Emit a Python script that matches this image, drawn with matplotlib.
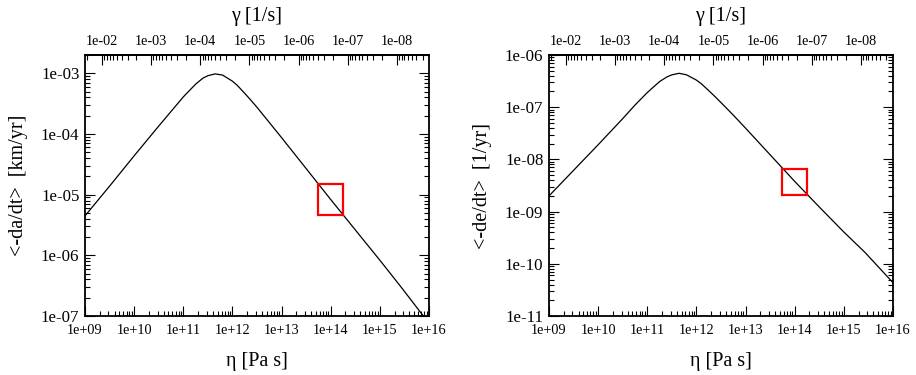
import matplotlib
matplotlib.use("Agg")

import matplotlib.pyplot as plt
import numpy as np
from matplotlib.patches import Rectangle
from matplotlib.ticker import FuncFormatter, LogLocator, NullFormatter

plt.rcParams["font.family"] = ["Liberation Serif", "DejaVu Serif"]

# ==========================================================
# Data (log10 values)
# ==========================================================

eta_exp = [9.0, 9.5, 10.0, 10.5, 10.75, 11.0, 11.25, 11.4, 11.5, 11.65,
           11.8, 12.0, 12.1, 12.25, 12.35, 12.5, 12.75, 13.0, 13.5, 14.0,
           14.5, 15.0, 15.43, 16.0]

dadt_exp = [-5.35, -4.86, -4.36, -3.87, -3.63, -3.39, -3.18, -3.08, -3.04,
            -3.01, -3.03, -3.13, -3.20, -3.33, -3.42, -3.56, -3.81, -4.06,
            -4.57, -5.08, -5.58, -6.08, -6.52, -7.12]

dedt_exp = [-8.70, -8.21, -7.72, -7.22, -6.96, -6.72, -6.51, -6.42, -6.38,
            -6.35, -6.38, -6.48, -6.55, -6.68, -6.77, -6.91, -7.15, -7.40,
            -7.91, -8.42, -8.91, -9.39, -9.78, -10.36]

# highlighted point (red box), box is +-0.25 decade
box_eta_exp = 14.0
box_dadt_exp = -5.08
box_dedt_exp = -8.43
box_half = 0.25

# gamma = K / eta
gamma_const = 2.22e7


def sci(value, pos):
    return f"{value:.0e}"


def set_log_ticks(axis):
    axis.set_major_locator(LogLocator(base=10, numticks=20))
    axis.set_minor_locator(LogLocator(base=10, subs=np.arange(2, 10), numticks=20))
    axis.set_major_formatter(FuncFormatter(sci))
    axis.set_minor_formatter(NullFormatter())


def make_panel(fig, rect, y_exp, ylim, ylabel, box_y_exp):
    ax = fig.add_axes(rect)

    eta = 10.0 ** np.array(eta_exp)
    val = 10.0 ** np.array(y_exp)

    ax.plot(eta, val, color="black", linewidth=0.9)

    ax.add_patch(Rectangle(
        (10 ** (box_eta_exp - box_half), 10 ** (box_y_exp - box_half)),
        10 ** (box_eta_exp + box_half) - 10 ** (box_eta_exp - box_half),
        10 ** (box_y_exp + box_half) - 10 ** (box_y_exp - box_half),
        fill=False, edgecolor="#ff0000", linewidth=1.6, zorder=3
    ))

    ax.set_xscale("log")
    ax.set_yscale("log")
    ax.set_xlim(1e9, 1e16)
    ax.set_ylim(*ylim)

    set_log_ticks(ax.xaxis)
    set_log_ticks(ax.yaxis)

    ax.tick_params(which="both", direction="in", top=False, right=True,
                   width=0.8)
    ax.tick_params(which="major", length=7)
    ax.tick_params(which="minor", length=3.5)
    ax.tick_params(axis="x", labelsize=10.3, pad=6)
    ax.tick_params(axis="y", labelsize=12.2, pad=4)

    for spine in ax.spines.values():
        spine.set_linewidth(1.3)

    ax.set_xlabel("η [Pa s]", fontsize=14.5)
    ax.xaxis.set_label_coords(0.5, -0.138, transform=ax.transAxes)
    ax.set_ylabel(ylabel, fontsize=14.5)
    ax.yaxis.set_label_coords(-0.166, 0.5, transform=ax.transAxes)

    # top axis: strain rate
    secax = ax.secondary_xaxis(
        "top",
        functions=(lambda x: gamma_const / x, lambda x: gamma_const / x)
    )
    set_log_ticks(secax.xaxis)
    secax.tick_params(which="both", direction="in", width=0.8,
                      labelsize=10.3, pad=5)
    secax.tick_params(which="major", length=7)
    secax.tick_params(which="minor", length=3.5)
    secax.spines["top"].set_linewidth(1.3)
    secax.set_xlabel("γ [1/s]", fontsize=14.5)
    secax.xaxis.set_label_coords(0.5, 1.130, transform=ax.transAxes)

    return ax


fig = plt.figure(figsize=(9.16, 3.75), dpi=100)

make_panel(fig, [0.0928, 0.1573, 0.3755, 0.696], dadt_exp, (1e-7, 2e-3),
           "<-da/dt>  [km/yr]", box_dadt_exp)

make_panel(fig, [0.5993, 0.1573, 0.3755, 0.696], dedt_exp, (1e-11, 1e-6),
           "<-de/dt>  [1/yr]", box_dedt_exp)

fig.savefig("out.png", dpi=100)
